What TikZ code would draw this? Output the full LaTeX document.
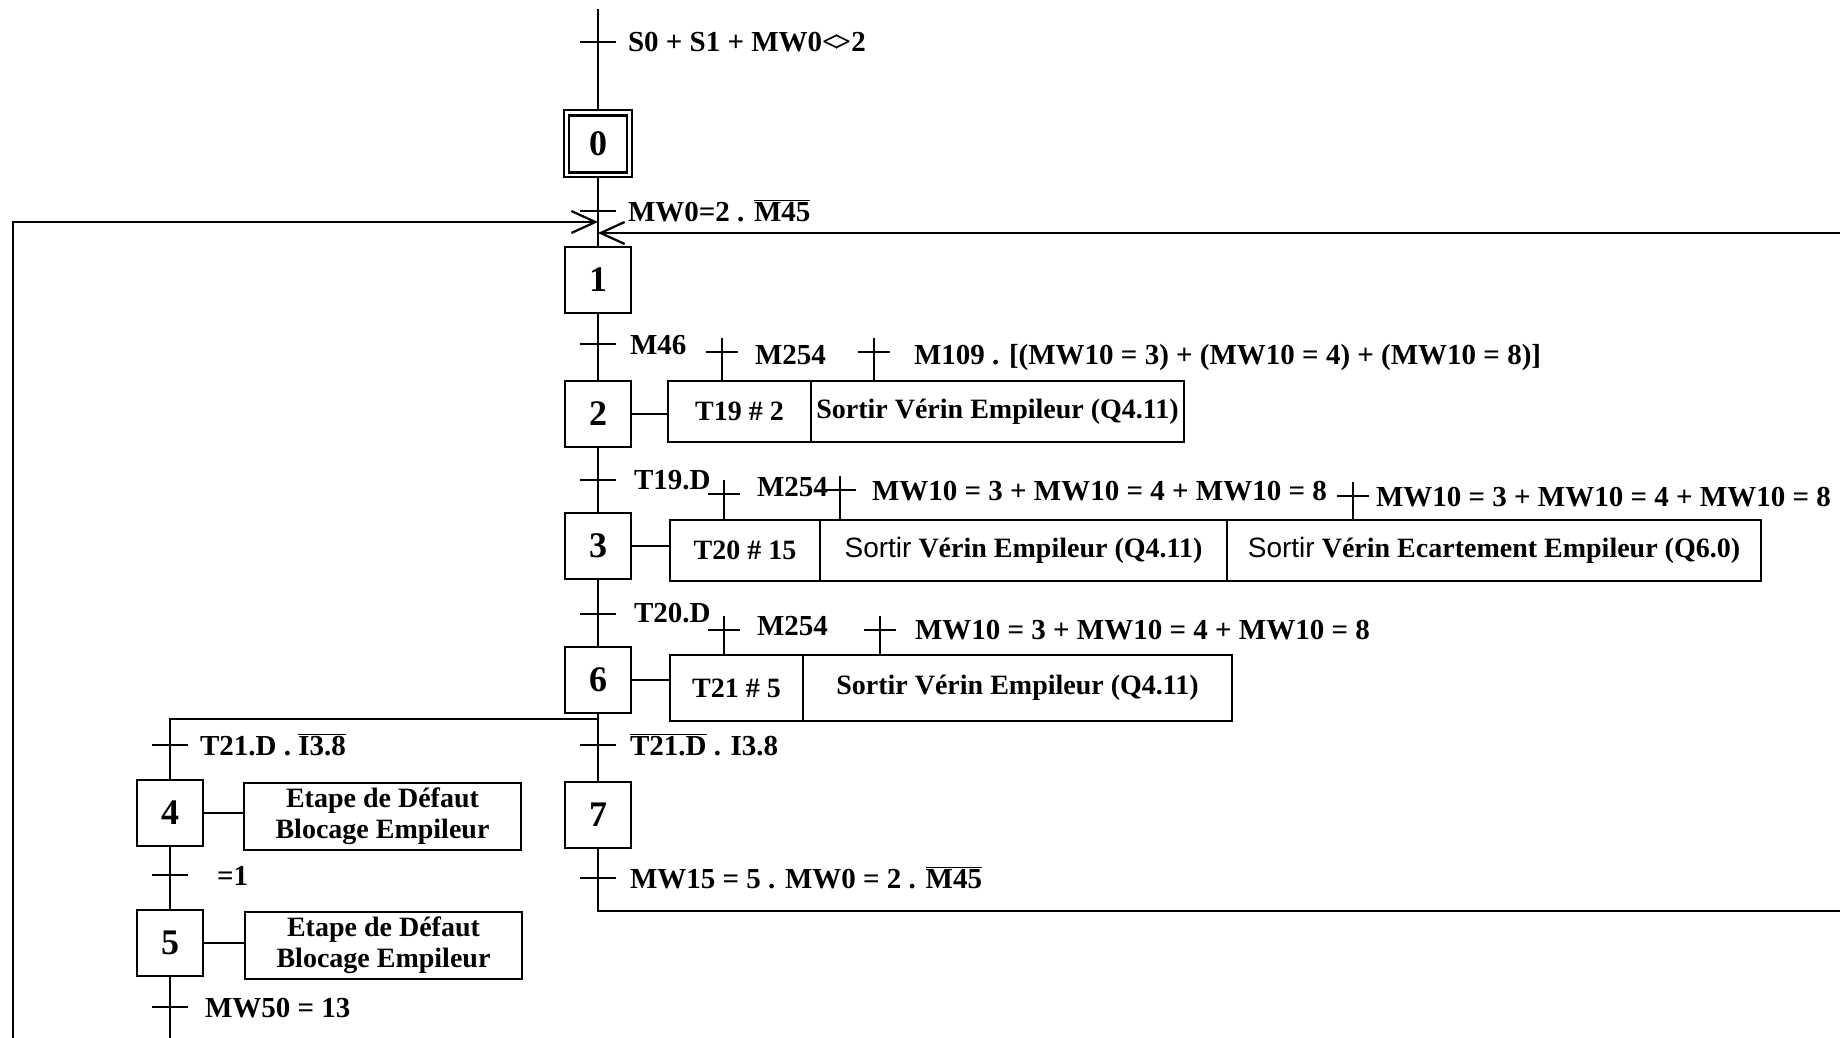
\documentclass[tikz,border=0pt]{standalone}
\usepackage{fontspec}
\setmainfont{Liberation Serif}
\newfontfamily\sansf{Liberation Sans}
\usetikzlibrary{arrows.meta}
\newcommand\ovl[1]{$\overline{\hbox{#1}}$}
\begin{document}
\begin{tikzpicture}[x=1pt,y=-1pt,
  every node/.style={inner sep=0pt, outer sep=0pt},
  stepbox/.style={draw, line width=2.5pt, minimum width=66pt, minimum height=66pt, font=\bfseries\fontsize{36}{40}\selectfont},
  actbox/.style={draw, line width=2.5pt, anchor=north west, font=\bfseries\fontsize{28}{31}\selectfont, align=center},
  cond/.style={anchor=base west, font=\bfseries\fontsize{29}{32}\selectfont},
  link/.style={line width=2.5pt},
  tickmark/.style={line width=2.5pt},
  barb/.style={-{Straight Barb[length=24pt,width=22pt,line width=2.2pt]}}
]
\useasboundingbox (0,0) rectangle (1840,1038);
\fill[white] (0,0) rectangle (1840,1038);

% steps
\node[stepbox, minimum width=58pt, minimum height=57pt] (s0) at (598,144) {0};
\draw[link, line width=2pt] ([shift={(-5,-5)}]s0.north west) rectangle ([shift={(5,5)}]s0.south east);
\node[stepbox] (s1) at (598,280) {1};
\node[stepbox] (s2) at (598,414) {2};
\node[stepbox] (s3) at (598,546) {3};
\node[stepbox] (s6) at (598,680) {6};
\node[stepbox] (s4) at (170,813) {4};
\node[stepbox] (s5) at (170,943) {5};
\node[stepbox] (s7) at (598,815) {7};

% action boxes
\node[actbox, minimum width=143pt, minimum height=61pt] (a2a) at (668,381) {T19 \# 2};
\node[actbox, minimum width=373pt, minimum height=61pt] (a2b) at (a2a.north east) {Sortir Vérin Empileur (Q4.11)};
\node[actbox, minimum width=150pt, minimum height=61pt] (a3a) at (670,520) {T20 \# 15};
\node[actbox, minimum width=407pt, minimum height=61pt] (a3b) at (a3a.north east) {{\sansf\mdseries Sortir} Vérin Empileur (Q4.11)};
\node[actbox, minimum width=534pt, minimum height=61pt] (a3c) at (a3b.north east) {{\sansf\mdseries Sortir} Vérin Ecartement Empileur (Q6.0)};
\node[actbox, minimum width=133pt, minimum height=66pt] (a6a) at (670,655) {T21 \# 5};
\node[actbox, minimum width=429pt, minimum height=66pt] (a6b) at (a6a.north east) {Sortir Vérin Empileur (Q4.11)};
\node[actbox, minimum width=277pt, minimum height=67pt] (a4) at (244,783) {Etape de Défaut\\Blocage Empileur};
\node[actbox, minimum width=277pt, minimum height=67pt] (a5) at (245,912) {Etape de Défaut\\Blocage Empileur};

% step -> action links
\draw[link] (s2.east) -- (s2.east -| a2a.west);
\draw[link] (s3.east) -- (s3.east -| a3a.west);
\draw[link] (s6.east) -- (s6.east -| a6a.west);
\draw[link] (s4.east) -- (s4.east -| a4.west);
\draw[link] (s5.east) -- (s5.east -| a5.west);

% main flow
\coordinate (top) at (598,9);
\draw[link] (top) -- ([yshift=5pt]s0.north);
\draw[link] ([yshift=-5pt]s0.south) -- (s1.north);
\draw[link] (s1.south) -- (s2.north);
\draw[link] (s2.south) -- (s3.north);
\draw[link] (s3.south) -- (s6.north);
\draw[link] (s6.south) -- (s7.north);
\coordinate (dv) at (170,719);
\draw[link] (s6.south |- dv) -- (dv) -- (s4.north);
\draw[link] (s4.south) -- (s5.north);
\coordinate (bl) at (170,1038);
\draw[link] (s5.south) -- (bl);
\coordinate (br) at (1840,911);
\draw[link] (s7.south) |- (br);

% loops back to step 1
\coordinate (ll) at (13,1038);
\coordinate (jl) at (598,222);
\draw[link, barb] (ll) |- (jl);
\coordinate (rr) at (1840,233);
\coordinate (jr) at (598,233);
\draw[link, barb] (rr) -- (jr);

% transition ticks
\coordinate (t0) at (598,42);
\coordinate (t01) at (598,211);
\coordinate (t12) at (598,344);
\coordinate (t23) at (598,480);
\coordinate (t36) at (598,614);
\coordinate (t4) at (170,745);
\coordinate (t7) at (598,745);
\coordinate (t45) at (170,875);
\coordinate (t5) at (170,1007);
\coordinate (t7b) at (598,878);
\foreach \t in {t0,t01,t12,t23,t36,t4,t7,t45,t5,t7b}
  \draw[tickmark] ([xshift=-18pt]\t) -- ([xshift=18pt]\t);

% parallel condition ticks
\coordinate (p21) at (722,352);
\coordinate (p22) at (874,352);
\coordinate (p31) at (724,494);
\coordinate (p32) at (840,490);
\coordinate (p33) at (1353,496);
\coordinate (p41) at (724,630);
\coordinate (p42) at (880,630);
\draw[link] ([yshift=14pt]p21) -- (p21 |- a2a.north);
\draw[link] ([yshift=14pt]p22) -- (p22 |- a2b.north);
\draw[link] ([yshift=14pt]p31) -- (p31 |- a3a.north);
\draw[link] ([yshift=14pt]p32) -- (p32 |- a3b.north);
\draw[link] ([yshift=14pt]p33) -- (p33 |- a3c.north);
\draw[link] ([yshift=14pt]p41) -- (p41 |- a6a.north);
\draw[link] ([yshift=14pt]p42) -- (p42 |- a6b.north);
\foreach \t in {p21,p22,p31,p32,p33,p41,p42}
  \draw[tickmark] ([xshift=-16pt]\t) -- ([xshift=16pt]\t);

% conditions
\node[cond] (c0) at (628,52) {S0 + S1 + MW0<\kern-4pt>2};
\node[cond] (c01) at (628,221) {MW0=2 . \ovl{M45}};
\node[cond] (c12) at (630,354) {M46};
\node[cond] (c21) at (755,364) {M254};
\node[cond] (c22) at (914,364) {M109 . [(MW10 = 3) + (MW10 = 4) + (MW10 = 8)]};
\node[cond] (c23) at (634,489) {T19.D};
\node[cond] (c31) at (757,496) {M254};
\node[cond] (c32) at (872,500) {MW10 = 3 + MW10 = 4 + MW10 = 8};
\node[cond] (c33) at (1376,506) {MW10 = 3 + MW10 = 4 + MW10 = 8};
\node[cond] (c36) at (634,622) {T20.D};
\node[cond] (c41) at (757,635) {M254};
\node[cond] (c42) at (915,639) {MW10 = 3 + MW10 = 4 + MW10 = 8};
\node[cond] (c4) at (200,755) {T21.D . \ovl{I3.8}};
\node[cond] (c7) at (630,755) {\ovl{T21.D} . I3.8};
\node[cond] (c45) at (217,885) {=1};
\node[cond] (c5) at (205,1017) {MW50 = 13};
\node[cond] (c7b) at (630,888) {MW15 = 5 . MW0 = 2 . \ovl{M45}};
\end{tikzpicture}
\end{document}
